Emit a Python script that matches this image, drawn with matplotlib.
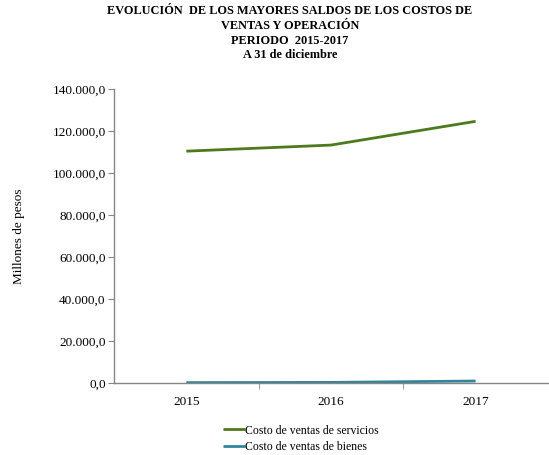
import matplotlib
matplotlib.use("Agg")
import matplotlib.pyplot as plt
from matplotlib.ticker import FuncFormatter, MultipleLocator

years = ["2015", "2016", "2017"]
servicios = [110400, 113300, 124600]
bienes = [200, 300, 950]
series_names = ["Costo de ventas de servicios", "Costo de ventas de bienes"]

plt.rcParams['font.family'] = ['Liberation Serif', 'DejaVu Serif']

fig = plt.figure(figsize=(5.49, 4.55), dpi=100)
ax = fig.add_axes([0.2077, 0.1582, 0.7903, 0.6462])

x = list(range(len(years)))
ax.plot(x, servicios, color='#4E7A1E', lw=2.0, label=series_names[0], solid_capstyle='butt')
ax.plot(x, bienes, color='#31859C', lw=2.0, label=series_names[1], solid_capstyle='butt')

ax.set_xlim(-0.5, 2.5)
ax.set_ylim(0, 140000)
ax.yaxis.set_major_locator(MultipleLocator(20000))

def fmt(v, pos):
    s = f"{v:,.1f}"
    return s.replace(",", "X").replace(".", ",").replace("X", ".")
ax.yaxis.set_major_formatter(FuncFormatter(fmt))

ax.set_xticks(x)
ax.set_xticklabels(years)
ax.set_xticks([0.5, 1.5], minor=True)
ax.tick_params(axis='x', which='major', length=0, labelsize=9.5, pad=9)
ax.tick_params(axis='x', which='minor', length=4, color='#868686', direction='out')
ax.tick_params(axis='y', length=4, color='#868686', labelsize=9.5, pad=2)

for s in ['top', 'right']:
    ax.spines[s].set_visible(False)
for s in ['left', 'bottom']:
    ax.spines[s].set_color('#868686')
    ax.spines[s].set_linewidth(1.0)

ax.set_ylabel("Millones de pesos", fontsize=9.5, labelpad=20)

fig.suptitle("EVOLUCIÓN  DE LOS MAYORES SALDOS DE LOS COSTOS DE\nVENTAS Y OPERACIÓN\nPERIODO  2015-2017\nA 31 de diciembre",
             fontsize=8.8, fontweight='bold', x=0.528, y=0.988, va='top', linespacing=1.28)

fig.legend(loc='center', bbox_to_anchor=(0.548, 0.036), ncol=1, frameon=False,
           fontsize=8.5, handlelength=1.9, handletextpad=0.0, labelspacing=0.35)

fig.savefig("out.png", dpi=100)
